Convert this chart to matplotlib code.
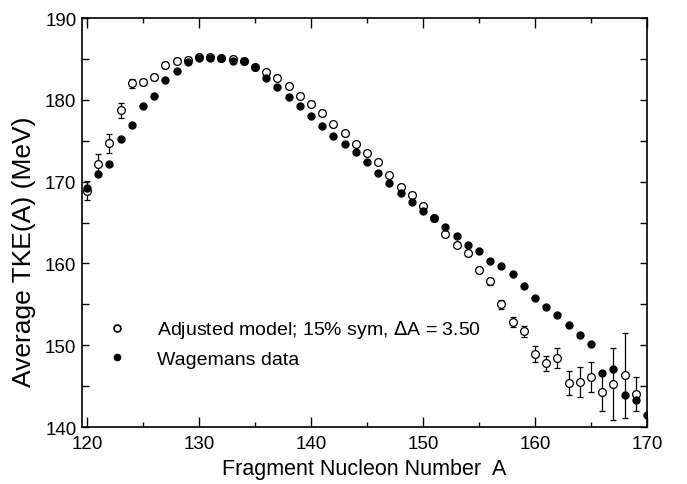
import matplotlib
matplotlib.use("Agg")
import matplotlib.pyplot as plt
from matplotlib.lines import Line2D
from matplotlib.ticker import MultipleLocator
import numpy as np

plt.rcParams['font.family'] = ['Liberation Sans', 'DejaVu Sans']

# Adjusted model (open circles), A = 120..169
model_A = np.arange(120, 170)
model_tke = [168.9, 172.2, 174.7, 178.7, 182.0, 182.2, 182.8, 184.3, 184.8, 184.9,
             185.2, 185.2, 185.1, 185.0, 184.7, 184.0, 183.4, 182.7, 181.7, 180.5,
             179.5, 178.4, 177.0, 175.9, 174.6, 173.5, 172.4, 170.8, 169.4, 168.4,
             167.0, 165.5, 163.6, 162.3, 161.3, 159.2, 157.8, 155.0, 152.8, 151.7,
             148.9, 147.8, 148.4, 145.4, 145.5, 146.1, 144.3, 145.2, 146.3, 144.0]
model_err = [1.2, 1.2, 1.15, 0.9, 0.55, 0.35, 0.35, 0.35, 0.35, 0.35,
             0.3, 0.3, 0.3, 0.3, 0.3, 0.3, 0.3, 0.3, 0.3, 0.3,
             0.3, 0.3, 0.3, 0.3, 0.3, 0.3, 0.3, 0.3, 0.3, 0.3,
             0.3, 0.3, 0.3, 0.35, 0.35, 0.4, 0.45, 0.55, 0.6, 0.7,
             1.0, 0.9, 1.2, 1.5, 1.8, 1.8, 2.4, 4.4, 5.2, 2.1]

# Wagemans data (filled circles), A = 120..170
wag_A = np.arange(120, 171)
wag_tke = [169.2, 170.9, 172.1, 175.2, 176.9, 179.3, 180.5, 182.4, 183.5, 184.6,
           185.1, 185.1, 185.1, 184.8, 184.7, 184.0, 182.7, 181.6, 180.4, 179.2,
           178.0, 176.8, 175.6, 174.6, 173.6, 172.4, 171.1, 169.8, 168.6, 167.5,
           166.4, 165.6, 164.4, 163.4, 162.2, 161.5, 160.3, 159.7, 158.7, 157.2,
           155.8, 154.7, 153.7, 152.5, 151.3, 150.1, 146.6, 147.1, 143.9, 143.3,
           141.5]

legend_labels = ["Adjusted model; 15% sym, $\\Delta$A = 3.50", "Wagemans data"]

fig = plt.figure(figsize=(6.87, 4.85), dpi=100)
ax = fig.add_axes([0.1194, 0.1175, 0.8224, 0.8433])

ax.errorbar(model_A, model_tke, yerr=model_err, fmt='o', ms=5.6,
            mfc='white', mec='black', mew=0.9, ecolor='black',
            elinewidth=0.9, capsize=2.2, capthick=0.9, zorder=2)
ax.plot(wag_A, wag_tke, 'o', ms=5.0, color='black', zorder=3)

ax.set_xlim(119.55, 170)
ax.set_ylim(140, 190)
ax.xaxis.set_major_locator(MultipleLocator(10))
ax.xaxis.set_minor_locator(MultipleLocator(5))
ax.yaxis.set_major_locator(MultipleLocator(10))
ax.yaxis.set_minor_locator(MultipleLocator(5))

ax.tick_params(which='both', direction='in', top=True, right=True,
               width=1.0, labelsize=13.5, colors='black')
ax.tick_params(axis='x', which='major', length=7.5, pad=6)
ax.tick_params(axis='x', which='minor', length=3.6)
ax.tick_params(axis='y', which='both', length=5, pad=4)
for s in ax.spines.values():
    s.set_linewidth(1.2)

ax.set_xlabel("Fragment Nucleon Number  A", fontsize=15.5, labelpad=4)
ax.set_ylabel("Average TKE(A) (MeV)", fontsize=19)
ax.yaxis.set_label_coords(-0.082, 0.43)

handles = [
    Line2D([], [], ls='none', marker='o', ms=5, mfc='white', mec='black', mew=1.2),
    Line2D([], [], ls='none', marker='o', ms=4.5, color='black'),
]
ax.legend(handles, legend_labels, loc='lower left', bbox_to_anchor=(0.045, 0.145),
          frameon=False, fontsize=14, handlelength=1.0, handletextpad=1.55,
          labelspacing=0.5, borderpad=0, borderaxespad=0)

fig.savefig("out.png", dpi=100)
